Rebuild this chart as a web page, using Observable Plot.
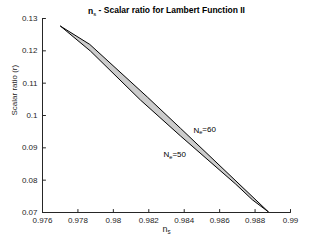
<!DOCTYPE html>
<html><head><meta charset="utf-8">
<script src="https://cdn.jsdelivr.net/npm/d3@7"></script>
<script src="https://cdn.jsdelivr.net/npm/@observablehq/plot@0.6"></script>
<style>body{margin:0;background:#fff;} svg{display:block}</style>
</head><body><div id="chart"></div>
<script>
// N_e = 60 curve (upper/right edge)
const ne60X = [0.97702, 0.97867, 0.98192, 0.98379, 0.98875];
const ne60Y = [0.12762, 0.12198, 0.10571, 0.09605, 0.07020];
// N_e = 50 curve (lower/left edge)
const ne50X = [0.97702, 0.97871, 0.98153, 0.98379, 0.98689, 0.98785, 0.98875];
const ne50Y = [0.12762, 0.11991, 0.10478, 0.09367, 0.07886, 0.07392, 0.07020];
const xTicks = [0.976, 0.978, 0.98, 0.982, 0.984, 0.986, 0.988, 0.99];
const yTicks = [0.07, 0.08, 0.09, 0.1, 0.11, 0.12, 0.13];
const annX = [0.98452, 0.98283];
const annY = [0.09553, 0.08781];
const annText = ["N_e=60", "N_e=50"];
const titleText = "n_s - Scalar ratio for Lambert Function II";
const xLabel = "n_s";
const yLabel = "Scalar ratio (r)";

const line60 = ne60X.map((x, i) => ({x, y: ne60Y[i]}));
const line50 = ne50X.map((x, i) => ({x, y: ne50Y[i]}));
const polygon = line60.concat(line50.slice().reverse());
const ann = annX.map((x, i) => ({x, y: annY[i], text: annText[i]}));

const fmt = d => String(+d.toFixed(4));
const ink = "#262626";
const tickShape = {draw(context, l) { context.moveTo(0, 0); context.lineTo(0, -l); }};

const chart = Plot.plot({
  width: 321, height: 241,
  marginLeft: 42, marginRight: 31, marginTop: 18, marginBottom: 29,
  style: {fontFamily: "'Liberation Sans', Arial, sans-serif", fontSize: "8px", color: ink, background: "#fff"},
  x: {domain: [0.976, 0.99]},
  y: {domain: [0.07, 0.13]},
  marks: [
    Plot.line(polygon, {x: "x", y: "y", fill: "#cccccc", stroke: "none", curve: "linear-closed"}),
    Plot.line(line60, {x: "x", y: "y", stroke: "#000", strokeWidth: 1}),
    Plot.line(line50, {x: "x", y: "y", stroke: "#000", strokeWidth: 1}),
    Plot.ruleY([0.07], {stroke: ink, strokeWidth: 1}),
    Plot.ruleX([0.976], {stroke: ink, strokeWidth: 1}),
    // inward ticks
    Plot.vector(xTicks, {x: d => d, frameAnchor: "bottom", length: 3, rotate: 0, anchor: "start", shape: tickShape, stroke: ink, strokeWidth: 1}),
    Plot.vector(yTicks, {y: d => d, frameAnchor: "left", length: 3, rotate: 90, anchor: "start", shape: tickShape, stroke: ink, strokeWidth: 1}),
    Plot.axisX(xTicks, {tickSize: 0, tickPadding: 5, tickFormat: fmt, fill: ink, label: null}),
    Plot.axisY(yTicks, {tickSize: 0, tickPadding: 5, tickFormat: fmt, fill: ink, label: null}),
    Plot.text(ann, {x: "x", y: "y", text: "text", textAnchor: "start", fill: "#000", fontSize: 8}),
    Plot.text([titleText], {frameAnchor: "top", dy: -11, fontWeight: "bold", fontSize: 8.5, fill: "#000"}),
    Plot.text([xLabel], {frameAnchor: "bottom", dy: 19, fontSize: 9, fill: ink}),
    Plot.text([yLabel], {frameAnchor: "left", dx: -28, rotate: -90, fontSize: 8, fill: ink})
  ]
});

// render "a_b..." as a with subscript b
d3.select(chart).selectAll("text").each(function() {
  const el = this;
  if (el.querySelector("tspan")) return;
  const s = el.textContent;
  const k = s.indexOf("_");
  if (k < 0) return;
  el.textContent = "";
  const sel = d3.select(el);
  sel.append("tspan").text(s.slice(0, k));
  sel.append("tspan").attr("dy", "0.35em").attr("font-size", "70%").attr("font-weight", "normal").text(s.slice(k + 1, k + 2));
  const rest = s.slice(k + 2);
  if (rest) sel.append("tspan").attr("dy", "-0.35em").text(rest);
});

document.getElementById("chart").appendChild(chart);
</script>
</body></html>
